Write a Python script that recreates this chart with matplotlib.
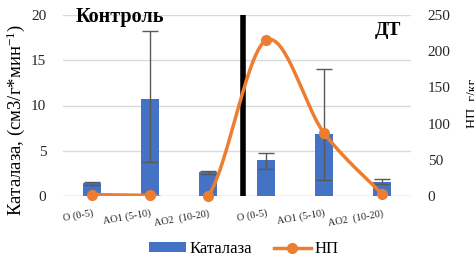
import numpy as np
import matplotlib
matplotlib.use("Agg")
import matplotlib.pyplot as plt
from matplotlib.lines import Line2D
from matplotlib.patches import Patch
from matplotlib.font_manager import FontProperties

categories = ["O (0-5)", "AO1 (5-10)", "AO2  (10-20)", "O (0-5)", "AO1 (5-10)", "AO2  (10-20)"]
catalase = [1.4, 10.7, 2.6, 4.0, 6.8, 1.6]
catalase_err_low = [0.15, 6.9, 0.2, 1.0, 5.0, 0.25]
catalase_err_high = [0.15, 7.5, 0.2, 0.7, 7.2, 0.3]
np_values = [2, 1, 0, 215, 87, 3]

plt.rcParams['font.family'] = ['Liberation Serif', 'DejaVu Serif']
plt.rcParams['mathtext.fontset'] = 'custom'
plt.rcParams['mathtext.rm'] = 'Liberation Serif'
plt.rcParams['mathtext.it'] = 'Liberation Serif:italic'
plt.rcParams['mathtext.bf'] = 'Liberation Serif:bold'

fig = plt.figure(figsize=(4.74, 2.58), dpi=100)
ax = fig.add_axes([63/474, 1-196/258, (411-63)/474, (196-15)/258])
ax2 = ax.twinx()

x = np.arange(len(categories))
blue = "#4472C4"
orange = "#ED7D31"

ax.bar(x, catalase, width=0.31, color=blue, zorder=2)
ax.errorbar(x, catalase, yerr=[catalase_err_low, catalase_err_high], fmt='none',
            ecolor="#595959", elinewidth=1.0, capsize=6, capthick=1.0, zorder=3)

ax.set_xlim(-0.5, len(categories) - 0.5)
ax.set_ylim(0, 20)
ax.set_yticks([0, 5, 10, 15, 20])
ax.grid(axis='y', color="#D9D9D9", linewidth=1.0, zorder=0)
ax.set_axisbelow(True)
for s in ax.spines.values():
    s.set_visible(False)
for s in ax2.spines.values():
    s.set_visible(False)
ax.axhline(0, color="#D9D9D9", linewidth=1.0, zorder=1)
ax.tick_params(axis='y', length=0, labelsize=11, colors="#262626", pad=12)
ax.tick_params(axis='x', length=0, colors="#262626", pad=9)
ax.set_xticks(x)
ax.set_xticklabels(categories, rotation=10, fontsize=7.5, ha='right', rotation_mode='anchor')
ax.set_ylabel("Каталаза, (см3/г*мин$^{-1}$)", fontsize=13.5)
ax.yaxis.set_label_coords(-0.103, 0.42)

# Catmull-Rom smoothing of the line (Excel-like)
xs = np.array(x, dtype=float)
ys = np.array(np_values, dtype=float)
px = np.concatenate([[xs[0]], xs, [xs[-1]]])
py = np.concatenate([[ys[0]], ys, [ys[-1]]])
cx, cy = [], []
t = np.linspace(0, 1, 60)
for i in range(1, len(px) - 2):
    p0x, p1x, p2x, p3x = px[i-1], px[i], px[i+1], px[i+2]
    p0y, p1y, p2y, p3y = py[i-1], py[i], py[i+1], py[i+2]
    m1x, m2x = (p2x - p0x) / 2, (p3x - p1x) / 2
    m1y, m2y = (p2y - p0y) / 2, (p3y - p1y) / 2
    h00 = 2*t**3 - 3*t**2 + 1
    h10 = t**3 - 2*t**2 + t
    h01 = -2*t**3 + 3*t**2
    h11 = t**3 - t**2
    cx.extend(h00*p1x + h10*m1x + h01*p2x + h11*m2x)
    cy.extend(h00*p1y + h10*m1y + h01*p2y + h11*m2y)

ax2.plot(cx, cy, color=orange, linewidth=2.5, zorder=4, clip_on=True)
ax2.plot(xs, ys, 'o', color=orange, markersize=7, zorder=5, clip_on=False)
ax2.set_ylim(0, 250)
ax2.set_yticks([0, 50, 100, 150, 200, 250])
ax2.tick_params(axis='y', length=0, labelsize=11, colors="#262626", pad=12)
ax2.set_ylabel("НП, г/кг", fontsize=10)
ax2.yaxis.set_label_coords(1.158, 0.51)

# divider line
ax.axvline(2.6, color="black", linewidth=4, zorder=6)

ax.text(-0.28, 19.8, "Контроль", fontsize=14.5, fontweight='bold', ha='left', va='center')
ax.text(4.87, 18.3, "ДТ", fontsize=14, fontweight='bold', ha='left', va='center')

handles = [Patch(facecolor=blue, edgecolor='none'),
           Line2D([0], [0], color=orange, linewidth=2.5, marker='o', markersize=7)]
fig.legend(handles, ["Каталаза", "НП"], loc='center', bbox_to_anchor=(244/474, 1-249/258),
           ncol=2, frameon=False, handlelength=2.2, handleheight=0.5, columnspacing=1.3,
           handletextpad=0.25, prop=FontProperties(family='Liberation Serif', size=12))

fig.savefig("out.png", dpi=100)
